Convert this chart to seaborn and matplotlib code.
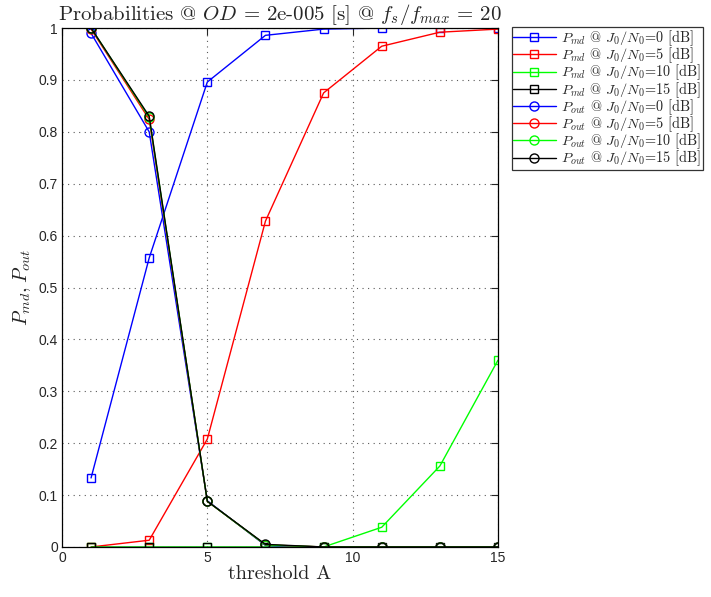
import numpy as np
import pandas as pd
import matplotlib
matplotlib.use("Agg")
import matplotlib.pyplot as plt
import seaborn as sns

# Detection thresholds
threshold = [1, 3, 5, 7, 9, 11, 13, 15]
jnr_db = [0, 5, 10, 15]

# Missed-detection probability per J0/N0
p_md = {
    0:  [0.133, 0.557, 0.896, 0.986, 0.998, 1.0, 1.0, 1.0],
    5:  [0.0, 0.013, 0.208, 0.628, 0.875, 0.965, 0.992, 0.998],
    10: [0.0, 0.0, 0.0, 0.0, 0.0, 0.038, 0.156, 0.360],
    15: [0.0, 0.0, 0.0, 0.0, 0.0, 0.0, 0.0, 0.0],
}
# Outage probability per J0/N0
p_out = {
    0:  [0.990, 0.800, 0.089, 0.003, 0.0, 0.0, 0.0, 0.0],
    5:  [0.998, 0.824, 0.088, 0.004, 0.0, 0.0, 0.0, 0.0],
    10: [1.0, 0.828, 0.088, 0.004, 0.0, 0.0, 0.0, 0.0],
    15: [1.0, 0.830, 0.088, 0.005, 0.0, 0.0, 0.0, 0.0],
}
colors = {0: (0, 0, 1), 5: (1, 0, 0), 10: (0, 1, 0), 15: (0, 0, 0)}

sns.set_style("white")
plt.rcParams["font.family"] = ["cmr10", "DejaVu Serif"]
plt.rcParams["mathtext.fontset"] = "cm"
plt.rcParams["axes.unicode_minus"] = False

fig = plt.figure(figsize=(7.11, 5.97), dpi=100)
ax = fig.add_axes([0.0872, 0.0838, 0.6132, 0.8692])

rows = []
for kind, table in (("md", p_md), ("out", p_out)):
    for j in jnr_db:
        for t, v in zip(threshold, table[j]):
            rows.append({"kind": kind, "jnr": j, "threshold": t, "p": v})
df = pd.DataFrame(rows)

for kind, marker in (("md", "s"), ("out", "o")):
    for j in jnr_db:
        sub = df[(df.kind == kind) & (df.jnr == j)]
        sns.lineplot(data=sub, x="threshold", y="p", ax=ax, color=colors[j],
                     marker=marker, markersize=6.5 if marker == "o" else 5.5,
                     markerfacecolor="none", markeredgecolor=colors[j],
                     markeredgewidth=1.0, linewidth=1.0,
                     label=rf"$P_{{{kind}}}$ @ $J_0/N_0$={j} [dB]")

ax.set_xlim(0, 15)
ax.set_ylim(0, 1)
ax.set_xticks([0, 5, 10, 15])
ax.set_yticks(np.arange(0, 1.01, 0.1))
ax.set_yticklabels(["0"] + [f"{v:.1f}" for v in np.arange(0.1, 0.95, 0.1)] + ["1"])
ax.tick_params(direction="in", top=True, right=True, length=5, width=0.8,
               labelsize=10, labelfontfamily="Liberation Sans", pad=3)
ax.grid(True, linestyle=(0, (1, 4)), color="0.35", linewidth=0.8)
for s in ax.spines.values():
    s.set_color("black")
    s.set_linewidth(0.9)

ax.set_xlabel("threshold A", fontsize=14.5, labelpad=0)
ax.set_ylabel(r"$P_{md}, P_{out}$", fontsize=14.5, labelpad=4)
ax.set_title(r"Probabilities @ $OD$ = 2e-005 [s] @ $f_s/f_{max}$ = 20",
             fontsize=15, pad=6)

leg = ax.legend(loc="upper left", bbox_to_anchor=(1.032, 1.002), fontsize=10.3,
                frameon=True, fancybox=False, borderpad=0.1, labelspacing=-0.17,
                handlelength=2.95, handletextpad=0.4, borderaxespad=0,
                markerscale=1.0)
leg.get_frame().set_edgecolor("black")
leg.get_frame().set_linewidth(0.9)

fig.savefig("out.png", dpi=100)
